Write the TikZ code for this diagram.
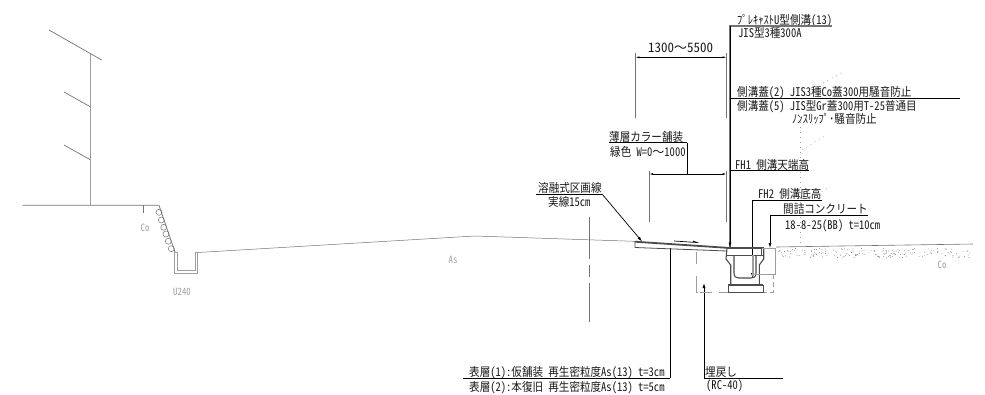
\documentclass[tikz,border=0pt]{standalone}
\usepackage{fontspec}
\usepackage{tikz}
\usetikzlibrary{graphs,arrows.meta}
\setmainfont[RawFeature={+hwid},FakeStretch=0.88]{Noto Sans CJK JP}
\newfontfamily\widefont[RawFeature={+hwid}]{Noto Sans CJK JP}
\newfontfamily\waveshape{Noto Sans CJK JP}
\newcommand{\wavech}{{\waveshape 〜}}
\definecolor{plangray}{gray}{0.45}
\definecolor{lightline}{gray}{0.62}
\tikzset{
    jplabel/.style={
        inner sep=0,
        anchor=base west,
        font=\fontsize{12}{12}\selectfont,
        text=black!90,
    },
    graylabel/.style={
        inner sep=0,
        font=\fontsize{10}{10}\selectfont,
        text=lightline,
    },
    mark point/.style={coordinate},
    leader/.style={
        draw=black,
        line width=0.7pt,
    },
    thick leader/.style={
        draw=plangray,
        line width=1.4pt,
    },
    leader arrow/.style={
        draw=black,
        line width=0.7pt,
        -{Latex[length=5pt,width=3pt]},
    },
    dim line/.style={
        draw=black,
        line width=0.7pt,
        {Latex[length=4pt,width=2pt]}-{Latex[length=4pt,width=2pt]},
    },
    outline/.style={
        draw=plangray,
        line width=0.7pt,
    },
    drain/.style={
        draw=black!70,
        line width=1.1pt,
    },
    fine dots/.style={
        draw=lightline,
        line width=0.5pt,
        dash pattern=on 1pt off 4pt,
    },
}

\begin{document}
\begin{tikzpicture}[x=1pt, y=-1pt]
            \useasboundingbox (0, 0) rectangle (985, 394) ;

            \node[jplabel] at (737, 24) (uname) {ﾌﾟﾚｷｬｽﾄU型側溝(13)} ;
            \node[jplabel] at (738, 37) (utype) {JIS型3種300A} ;
            \node[jplabel, font=\widefont\fontsize{13}{13}\selectfont] at (648, 52) (widthA) {1300\wavech 5500} ;
            \node[jplabel] at (737, 96.5) (coverA) {側溝蓋(2) JIS3種Co蓋300用騒音防止} ;
            \node[jplabel] at (737, 110) (coverB) {側溝蓋(5) JIS型Gr蓋300用T-25普通目} ;
            \node[jplabel] at (792, 123) (coverC) {ﾉﾝｽﾘｯﾌﾟ･騒音防止} ;
            \node[jplabel] at (609, 141) (thin) {薄層カラー舗装} ;
            \node[jplabel] at (610, 156) (green) {緑色 W=0\wavech 1000} ;
            \node[jplabel] at (735, 169) (fha) {FH1 側溝天端高} ;
            \node[jplabel] at (758, 198.5) (fhb) {FH2 側溝底高} ;
            \node[jplabel] at (783, 213.5) (fill) {間詰コンクリート} ;
            \node[jplabel] at (785, 229) (mix) {18-8-25(BB) t=10cm} ;
            \node[jplabel] at (538, 192.5) (paint) {溶融式区画線} ;
            \node[jplabel] at (548, 206) (solid) {実線15cm} ;
            \node[jplabel] at (469, 376) (surfA) {表層(1):仮舗装 再生密粒度As(13) t=3cm} ;
            \node[jplabel] at (469, 391.5) (surfB) {表層(2):本復旧 再生密粒度As(13) t=5cm} ;
            \node[jplabel] at (705, 376.5) (back) {埋戻し} ;
            \node[jplabel] at (706, 389) (backB) {(RC-40)} ;
            \node[graylabel] at (145, 228) (coL) {Co} ;
            \node[graylabel] at (182, 292) (ulabel) {U240} ;
            \node[graylabel] at (453, 260) (asL) {As} ;
            \node[graylabel] at (942, 265) (coR) {Co} ;

            \node[mark point] at (832, 26) (a1) {} ;
            \node[mark point] at (730, 26) (a2) {} ;
            \node[mark point] at (730, 247.5) (a3) {} ;
            \node[mark point] at (730, 98.3) (b1) {} ;
            \node[mark point] at (960, 98.3) (b2) {} ;
            \node[mark point] at (730, 170.7) (c1) {} ;
            \node[mark point] at (809, 170.7) (c2) {} ;
            \node[mark point] at (822, 200) (d1) {} ;
            \node[mark point] at (752.5, 200) (d2) {} ;
            \node[mark point] at (752.5, 278) (d3) {} ;
            \node[mark point] at (868, 215) (e1) {} ;
            \node[mark point] at (770, 215) (e2) {} ;
            \node[mark point] at (770, 248) (e3) {} ;
            \node[mark point] at (536, 194) (f1) {} ;
            \node[mark point] at (602, 194) (f2) {} ;
            \node[mark point] at (642, 241.5) (f3) {} ;
            \node[mark point] at (609, 142.7) (g1) {} ;
            \node[mark point] at (687, 142.7) (g2) {} ;
            \node[mark point] at (687, 174) (g3) {} ;
            \node[mark point] at (463, 378.3) (h1) {} ;
            \node[mark point] at (670, 378.3) (h2) {} ;
            \node[mark point] at (670, 248) (h3) {} ;
            \node[mark point] at (783, 378.3) (i1) {} ;
            \node[mark point] at (704, 378.3) (i2) {} ;
            \node[mark point] at (704, 283) (i3) {} ;
            \node[mark point] at (635.3, 57.3) (j1) {} ;
            \node[mark point] at (726.7, 57.3) (j2) {} ;
            \node[mark point] at (649, 174) (k1) {} ;
            \node[mark point] at (726.7, 174) (k2) {} ;

            \graph[use existing nodes, edges={leader}]{
                f1 -- f2 ;
                b1 -- b2 ;
                c1 -- c2 ;
                g1 -- g2 -- g3 ;
                h1 -- h2 -- h3 ;
                d1 -- d2 ;
                e1 -- e2 ;
                i1 -- i2 ;
            } ;
            \draw[thick leader] (a1) -- (a2) -- (a3) ;
            \draw[leader arrow] (a2) -- (a3) ;
            \draw[leader arrow] (d2) -- (d3) ;
            \draw[leader arrow] (e2) -- (e3) ;
            \draw[leader arrow] (f2) -- (f3) ;
            \draw[leader arrow] (i2) -- (i3) ;
            \draw[dim line] (j1) -- (j2) ;
            \draw[dim line] (k1) -- (k2) ;

            \draw[outline, line width=1pt] (635.3, 53) -- (635.3, 117.7) ;
            \draw[outline, line width=1pt] (726.7, 53) -- (726.7, 117.7) ;
            \draw[outline] (649, 170.7) -- (649, 221.7) ;
            \draw[outline] (726.7, 170.7) -- (726.7, 221.7) ;

            \draw[outline] (49, 30) -- (101.7, 60) ;
            \draw[outline] (64, 92) -- (90.7, 107) ;
            \draw[outline] (64, 145) -- (90.7, 160) ;
            \draw[lightline, line width=1.2pt] (90.7, 54) -- (90.7, 205) ;
            \draw[outline] (22.7, 205.3) -- (159, 205.3) -- (175, 252) ;
            \draw[outline] (143.7, 205.3) -- (143.7, 213) ;
            \foreach \cx/\cy in {159/212.3, 161.3/220, 163.7/227.3, 166/234, 168.3/241.3, 171.3/248.7}{
                \draw[outline, line width=0.5pt] (\cx, \cy) circle (3) ;
            }
            \draw[lightline, line width=0.8pt] (174.3, 252) -- (174.3, 273) -- (197.7, 273) -- (197.7, 252.5) -- (195, 252.5) -- (195, 270) -- (177, 270) -- (177, 252) -- cycle ;
            \draw[outline, line width=0.5pt] (197.7, 252.5) -- (475, 236) -- (640, 241.5) ;

            \draw[plangray, line width=0.8pt, dash pattern=on 42pt off 6pt on 12pt off 6pt on 42pt] (589, 217) -- (589, 322) ;

            \draw[black!70, line width=1.8pt] (635, 241.7) -- (727, 247.8) ;
            \draw[black!70, line width=0.8pt] (635, 241.7) -- (635, 247.5) -- (727, 251) ;
            \draw[black, line width=0.7pt] (674, 241) -- (697, 242.5) -- (693, 241) ;

            \draw[drain] (727, 248) -- (764, 248) ;
            \draw[drain, line width=0.9pt] (727, 255) -- (764, 255) ;
            \draw[drain] (727, 248) -- (726, 259) -- (730.7, 265) -- (730.7, 284) ;
            \draw[drain] (763.7, 248) -- (763.7, 259) -- (759.3, 265) -- (759.3, 284) ;
            \draw[drain] (734, 255) -- (734, 273) .. controls (734, 277) and (736, 278) .. (739, 278) -- (751, 278) .. controls (754, 278) and (756, 277) .. (756, 273) -- (756, 255) ;
            \draw[drain, lightline] (753, 255) -- (753, 276) ;
            \draw[drain, line width=0.8pt] (761, 248) -- (761, 255) ;
            \draw[lightline, line width=1pt] (761.7, 248) -- (775.7, 248) -- (775.7, 274) -- (753, 274) ;
            \draw[black!70, line width=2pt] (728.3, 284.5) -- (763.3, 284.5) ;
            \draw[drain, line width=0.8pt] (728.3, 284.5) -- (728.3, 292.7) -- (763.3, 292.7) -- (763.3, 284.5) ;
            \draw[lightline, line width=1pt, dash pattern=on 12pt off 12pt on 18pt off 2pt on 12pt off 7pt on 10pt off 24pt on 10pt off 16pt on 8pt] (696, 251.7) -- (696, 292) -- (728.3, 292) ;
            \draw[lightline, line width=1pt, dash pattern=on 5pt off 3pt] (773, 274) -- (773, 292) -- (764, 292) ;

            \draw[outline, line width=0.6pt] (776, 247) -- (973, 244) ;
            \pgfmathsetseed{27}
            \foreach \i in {1,...,170}{
                \pgfmathsetmacro{\px}{778 + 192*rnd}
                \pgfmathsetmacro{\py}{248.5 + 9*rnd}
                \fill[plangray] (\px, \py) circle (0.45) ;
            }
            \draw[fine dots] (800.7, 117) -- (800.7, 247) ;
            \draw[fine dots] (802, 150) -- (827, 134) ;
            \draw[fine dots] (823, 83) -- (843, 72) ;
            \draw[fine dots] (812, 125) -- (826, 114) ;
            \draw[fine dots] (822, 192) -- (829, 187) ;
        \end{tikzpicture}
\end{document}
